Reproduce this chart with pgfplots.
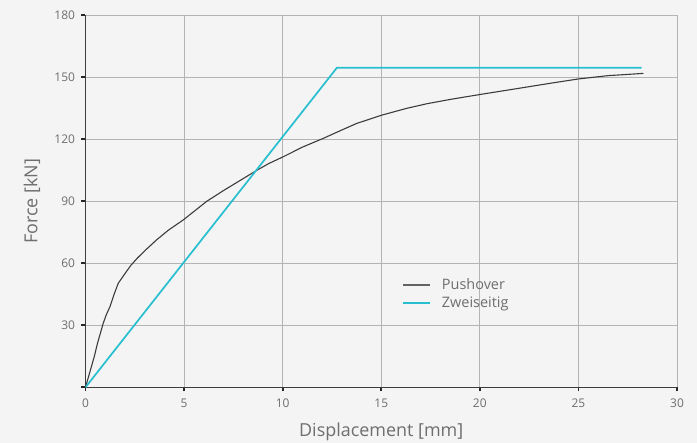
\documentclass[border=0pt]{standalone}
\usepackage{pgfplots}
\pgfplotsset{compat=1.18}
\usepackage{fontspec}
\setmainfont{Open Sans}
\definecolor{bgc}{HTML}{F4F4F4}
\definecolor{txt}{HTML}{6E6E6E}
\definecolor{gridc}{HTML}{B4B4B4}
\definecolor{pushc}{HTML}{3C3C3C}
\definecolor{zweic}{HTML}{27BFD0}
\begin{document}
\begin{tikzpicture}
\fill[bgc] (-85.5bp,-55.7bp) rectangle (611.5bp,387.3bp);
\path[use as bounding box] (-85.5bp,-55.7bp) rectangle (611.5bp,387.3bp);
\begin{axis}[
  at={(0,0)}, anchor=origin,
  scale only axis, width=591.5bp, height=372bp,
  xmin=0, xmax=30, ymin=0, ymax=180,
  axis lines=left,
  axis line style={-, line width=0.9bp, color=pushc},
  xtick={0,5,...,30}, ytick={0,30,...,180},
  yticklabels={,30,60,90,120,150,180},
  grid=major,
  major grid style={gridc, line width=0.9bp},
  tick align=outside,
  major tick length=4bp,
  tick style={line width=1.8bp, color=black!85},
  ticklabel style={font=\fontsize{12}{13}\selectfont, color=txt},
  xticklabel style={yshift=-4bp},
  yticklabel style={xshift=-3bp},
  /pgf/number format/assume math mode=true,
  xlabel={Displacement [mm]}, ylabel={Force [kN]},
  label style={font=\fontsize{18}{20}\selectfont, color=txt},
  xlabel style={at={(axis description cs:0.5,-0.12)}, anchor=center},
  ylabel style={at={(axis description cs:-0.0905,0.5)}, anchor=center, rotate=0},
  legend style={at={(axis cs:15.9,54.5)}, anchor=north west, draw=none, fill=none,
    font=\fontsize{14.5}{16}\selectfont, text=txt,
    row sep=2bp, /tikz/every odd column/.append style={column sep=9bp}},
  legend cell align=left,
]
\addplot[pushc, line width=1.1bp,
  legend image code/.code={\draw[pushc!80, line width=1.5bp] (0bp,0bp) -- (27bp,0bp);}] coordinates {
(0,0) (0.15,5) (0.3,10) (0.45,15) (0.6,21) (0.75,26) (0.9,31) (1.05,35) (1.24,39)
(1.45,45) (1.66,50.3) (2.0,55) (2.3,59) (2.6,62.2) (3.0,66) (3.6,71.3) (4.2,76)
(4.96,81) (6.15,90) (7,95.2) (8,101) (8.69,105) (9.3,108.3) (10.04,111.6)
(11,116.2) (12.07,120.5) (13,124.5) (13.76,127.7) (15.03,131.7) (16.3,135)
(17.31,137.2) (18.5,139.3) (20.02,141.7) (22,144.7) (23.5,147) (25,149.2)
(26.5,150.8) (27.5,151.4) (28.3,151.9)
};
\addlegendentry{Pushover}
\addplot[zweic, line width=1.7bp,
  legend image code/.code={\draw[zweic, line width=1.8bp] (0bp,0bp) -- (27bp,0bp);}] coordinates {
(0,0) (12.75,154.6) (28.2,154.6)
};
\addlegendentry{Zweiseitig}
\end{axis}
\end{tikzpicture}
\end{document}
